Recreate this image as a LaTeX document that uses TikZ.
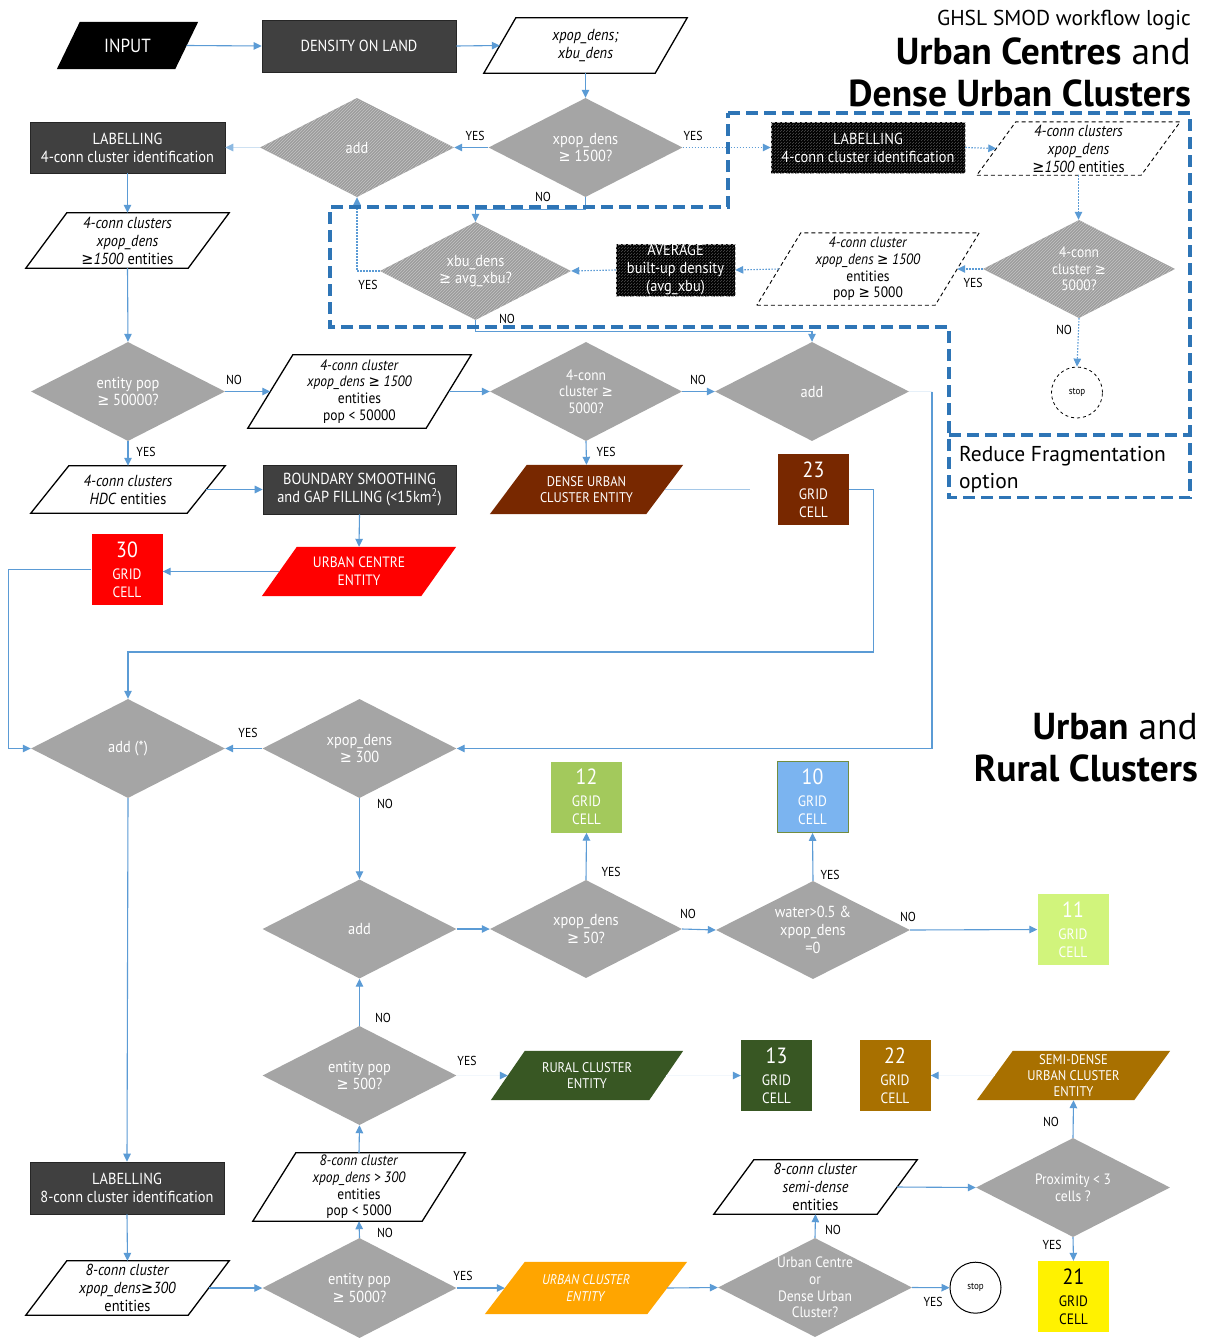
\documentclass[tikz,border=0pt]{standalone}
\usepackage{fontspec}
\setmainfont{PT Sans}
\newfontfamily\nodef[FakeStretch=0.9]{PT Sans}
\newfontfamily\symf[FakeStretch=0.9]{DejaVu Sans}
\newcommand\gsym{{\symf ≥}}
\usetikzlibrary{shapes.geometric,arrows.meta,patterns,backgrounds,calc}
\definecolor{arrowc}{HTML}{5B9BD5}
\definecolor{dashblue}{HTML}{2E75B6}
\definecolor{darkbox}{HTML}{404040}
\definecolor{darkedge}{HTML}{262626}
\definecolor{diagray}{HTML}{A5A5A5}
\definecolor{hatchbase}{HTML}{9C9C9C}
\definecolor{hatchline}{HTML}{C4C4C4}
\definecolor{hatchkl}{HTML}{505050}
\definecolor{brownc}{HTML}{782800}
\definecolor{green12}{HTML}{A3C95C}
\definecolor{blue10}{HTML}{7BB4F0}
\definecolor{green11}{HTML}{D1F47C}
\definecolor{dgreen}{HTML}{385723}
\definecolor{goldc}{HTML}{A87000}
\definecolor{orangec}{HTML}{FFA500}
\newcommand\myparal[3]{\path[#3] ($(#1.south west)+(-#2/2,0)$) -- ($(#1.south east)+(-#2/2,0)$) -- ($(#1.north east)+(#2/2,0)$) -- ($(#1.north west)+(#2/2,0)$) -- cycle;}
\begin{document}
\begin{tikzpicture}[x=1pt,y=-1pt,
  con/.style={draw=arrowc, line width=1.1pt, -{Triangle[length=8pt,width=7.5pt]}},
  dcon/.style={con, dash pattern=on 1.5pt off 1.5pt},
  fcon/.style={line width=1.1pt, draw=arrowc!30, -{Triangle[length=8pt,width=7.5pt,color=arrowc!70]}},
  gcon/.style={line width=1.1pt, draw=arrowc!8, -{Triangle[length=8pt,width=7.5pt,color=arrowc]}},
  bx/.style 2 args={rectangle, inner sep=0pt, minimum width=#1pt, minimum height=#2pt, align=center},
  dark/.style={fill=darkbox, draw=darkedge, line width=0.6pt, text=white, font=\nodef\fontsize{16}{18}\selectfont},
  hatchk/.style={preaction={fill=black}, pattern=north east lines, pattern color=hatchkl, draw=gray!60, line width=0.5pt, densely dashed, text=white, font=\nodef\fontsize{16}{18}\selectfont},
  dia/.style 2 args={shape=diamond, inner sep=0pt, minimum width=#1pt, minimum height=#2pt},
  dgray/.style={fill=diagray},
  hatchg/.style={preaction={fill=hatchbase}, pattern=north east lines, pattern color=hatchline},
  dtext/.style={text=white, align=center, inner sep=0pt, font=\nodef\fontsize{16}{17.7}\selectfont},
  dtexts/.style={text=white, align=center, inner sep=0pt, font=\nodef\fontsize{15}{16.7}\selectfont},
  ptext/.style={font=\nodef\fontsize{16}{18}\selectfont},
  ptexts/.style={font=\nodef\fontsize{15}{16.7}\selectfont},
  etext/.style={text=white, font=\nodef\fontsize{14}{16.7}\selectfont},
  gcell/.style={rectangle, inner sep=0pt, minimum width=71pt, minimum height=71pt, align=center, text=white, font=\nodef\fontsize{15}{18}\selectfont},
  yn/.style={font=\nodef\fontsize{13}{14}\selectfont, inner sep=0pt},
  pbord/.style={draw=black, fill=white, line width=1.3pt},
  pdash/.style={draw=black, fill=white, line width=0.9pt, dash pattern=on 4pt off 3pt},
  region/.style={draw=dashblue, line width=3.5pt, dash pattern=on 12pt off 6pt},
  title/.style={anchor=base east, inner sep=0pt, font=\fontsize{37.5}{44}\selectfont}
]
\useasboundingbox (0,0) rectangle (1207,1338);

% ---------- titles
\node[anchor=base east, inner sep=0pt, font=\fontsize{21.5}{25}\selectfont] (t1) at (1191,26) {GHSL SMOD workflow logic};
\node[title] (t2) at (1191,65) {\textbf{Urban Centres} and};
\node[title] (t3) at (1191,106) {\textbf{Dense Urban Clusters}};
\node[title] (t4) at (1198,739) {\textbf{Urban} and};
\node[title] (t5) at (1198,781) {\textbf{Rural Clusters}};
\node[anchor=base west, inner sep=0pt, font=\fontsize{21.5}{27}\selectfont] (t6) at (959,461.5) {Reduce Fragmentation};
\node[anchor=base west, inner sep=0pt, font=\fontsize{21.5}{27}\selectfont] (t7) at (959,488) {option};

% ---------- top part
\node[bx={118}{47}, text=white, font=\nodef\fontsize{19}{20}\selectfont] (inp) at (127.5,45.5) {INPUT};
\node[bx={194}{52}, dark] (dens) at (359,46) {DENSITY ON LAND};
\node[bx={171}{55}, ptext] (p1) at (585.5,45.5) {\textit{xpop\_dens;}\\\textit{xbu\_dens}};
\node[dia={194}{99}, hatchg, label={[dtext]center:{add}}] (d1) at (357,147.5) {};
\node[dia={194}{99}, dgray, label={[dtext]center:{xpop\_dens\\\gsym\ 1500?}}] (d2) at (585.5,147.5) {};
\node[bx={195}{51}, dark] (l1) at (127.5,147.5) {LABELLING\\4-conn cluster identification};
\node[bx={162}{55}, ptext] (p2) at (127.5,240.5) {\textit{4-conn clusters}\\\textit{xpop\_dens}\\\textit{\gsym1500} entities};
\node[bx={194}{51}, hatchk] (l2) at (868,147.5) {LABELLING\\4-conn cluster identification};
\node[bx={164}{53}, ptext] (p3) at (1078.5,148.5) {\textit{4-conn clusters}\\\textit{xpop\_dens}\\\textit{\gsym1500} entities};
\node[dia={192}{98}, hatchg, label={[dtexts]center:{4-conn\\cluster \gsym\\5000?}}] (d4) at (1079,269) {};
\node[bx={178}{72}, ptexts] (p4) at (868,269) {\textit{4-conn cluster}\\\textit{xpop\_dens \gsym\ 1500}\\entities\\pop \gsym\ 5000};
\node[bx={119}{52}, hatchk] (avg) at (675.5,270) {AVERAGE\\built-up density\\(avg\_xbu)};
\node[dia={191}{98}, hatchg, label={[dtext]center:{xbu\_dens\\\gsym\ avg\_xbu?}}] (d3) at (475.5,271) {};
\node[circle, draw, dashed, line width=0.8pt, minimum size=51pt, inner sep=0pt, font=\nodef\fontsize{10}{12}\selectfont] (s1) at (1077,392.5) {stop};

% ---------- middle part
\node[dia={194}{99}, dgray, label={[dtext]center:{entity pop\\\gsym\ 50000?}}] (d5) at (128,391.5) {};
\node[bx={178}{73}, ptexts] (p5) at (359.5,391.5) {\textit{4-conn cluster}\\\textit{xpop\_dens \gsym\ 1500}\\entities\\pop < 50000};
\node[dia={192}{99}, dgray, label={[dtexts]center:{4-conn\\cluster \gsym\\5000?}}] (d6) at (586,391.5) {};
\node[dia={194}{99}, dgray, label={[dtext]center:{add}}] (d7) at (812,391.5) {};
\node[bx={156}{47}, ptext] (p6) at (128,489.5) {\textit{4-conn clusters}\\\textit{HDC} entities};
\node[bx={193}{49}, dark] (bnd) at (359.5,489.5) {BOUNDARY SMOOTHING\\and GAP FILLING (<15km\textsuperscript{2})};
\node[bx={156}{49}, etext] (p7) at (586.5,489.5) {DENSE URBAN\\CLUSTER ENTITY};
\node[gcell, fill=brownc] (g23) at (813.5,489.5) {{\fontsize{22}{22}\selectfont 23}\\[4pt]GRID\\CELL};
\node[bx={159}{49}, text=white, font=\nodef\fontsize{15}{18}\selectfont] (p8) at (359,571.5) {URBAN CENTRE\\ENTITY};
\node[gcell, fill=red] (g30) at (127,569.5) {{\fontsize{22}{22}\selectfont 30}\\[4pt]GRID\\CELL};

% ---------- lower part
\node[dia={194}{99}, dgray, label={[dtext]center:{add (*)}}] (d8) at (128,748.5) {};
\node[dia={194}{99}, dgray, label={[dtext]center:{xpop\_dens\\\gsym\ 300}}] (d9) at (359.5,748.5) {};
\node[dia={194}{99}, dgray, label={[dtext]center:{add}}] (d10) at (359.5,929) {};
\node[dia={192}{98}, dgray, label={[dtext]center:{xpop\_dens\\\gsym\ 50?}}] (d11) at (586,929) {};
\node[dia={194}{98}, dgray, label={[dtext]center:{water>0.5 \&\\xpop\_dens\\=0}}] (d12) at (813,930) {};
\node[gcell, fill=green12] (g12) at (586.5,797) {{\fontsize{22}{22}\selectfont 12}\\[4pt]GRID\\CELL};
\node[gcell, fill=blue10, draw=green12!70!black, line width=0.8pt] (g10) at (812.5,797) {{\fontsize{22}{22}\selectfont 10}\\[4pt]GRID\\CELL};
\node[gcell, fill=green11] (g11) at (1073,929.5) {{\fontsize{22}{22}\selectfont 11}\\[4pt]GRID\\CELL};
\node[dia={194}{99}, dgray, label={[dtext]center:{entity pop\\\gsym\ 500?}}] (d13) at (359.5,1075.5) {};
\node[bx={158}{49}, etext] (p10) at (587,1075.5) {RURAL CLUSTER\\ENTITY};
\node[gcell, fill=dgreen] (g13) at (776.5,1075.5) {{\fontsize{22}{22}\selectfont 13}\\[4pt]GRID\\CELL};
\node[gcell, fill=goldc] (g22) at (895,1075.5) {{\fontsize{22}{22}\selectfont 22}\\[4pt]GRID\\CELL};
\node[bx={157}{49}, text=white, font=\nodef\fontsize{14}{16.3}\selectfont] (p11) at (1073.5,1075.5) {SEMI-DENSE\\URBAN CLUSTER\\ENTITY};
\node[dia={194}{99}, dgray, label={[dtexts]center:{Proximity < 3\\cells ?}}] (d16) at (1073,1187.5) {};
\node[bx={163}{54}, ptext] (p12) at (815.5,1187) {\textit{8-conn cluster}\\\textit{semi-dense}\\entities};
\node[bx={169}{68}, ptexts] (p13) at (359,1187) {\textit{8-conn cluster}\\\textit{xpop\_dens > 300}\\entities\\pop < 5000};
\node[bx={194}{52}, dark] (l3) at (127,1188) {LABELLING\\8-conn cluster identification};
\node[bx={162}{54}, ptext] (p14) at (127.5,1288) {\textit{8-conn cluster}\\\textit{xpop\_dens\gsym300}\\entities};
\node[dia={194}{100}, dgray, label={[dtext]center:{entity pop\\\gsym\ 5000?}}] (d14) at (359.5,1288) {};
\node[bx={162}{52}, etext] (p9) at (586,1288) {\textit{URBAN CLUSTER}\\\textit{ENTITY}};
\node[dia={194}{99}, dgray, label={[dtexts]center:{Urban Centre\\or\\Dense Urban\\Cluster?}}] (d15) at (815,1287.5) {};
\node[circle, draw, line width=1pt, minimum size=51pt, inner sep=0pt, font=\nodef\fontsize{10}{12}\selectfont] (s2) at (975.5,1287.7) {stop};
\node[gcell, fill=yellow, text=black] (g21) at (1073.5,1296.5) {{\fontsize{22}{22}\selectfont 21}\\[4pt]GRID\\CELL};

% ---------- YES / NO labels
\node[yn] (y1) at (475,136) {YES};
\node[yn] (y2) at (693,136) {YES};
\node[yn] (y3) at (543,197) {NO};
\node[yn] (y4) at (368,285) {YES};
\node[yn] (y5) at (507,319) {NO};
\node[yn] (y6) at (973,283) {YES};
\node[yn] (y7) at (1064,330) {NO};
\node[yn] (y8) at (234,380) {NO};
\node[yn] (y9) at (698,380) {NO};
\node[yn] (y10) at (146,452) {YES};
\node[yn] (y11) at (606,452) {YES};
\node[yn] (y12) at (248,733) {YES};
\node[yn] (y13) at (385,804) {NO};
\node[yn] (y14) at (611,872) {YES};
\node[yn] (y15) at (830,875) {YES};
\node[yn] (y16) at (688,914) {NO};
\node[yn] (y17) at (908,917) {NO};
\node[yn] (y18) at (383,1018) {NO};
\node[yn] (y19) at (467,1061) {YES};
\node[yn] (y20) at (1051,1122) {NO};
\node[yn] (y21) at (1052,1245) {YES};
\node[yn] (y22) at (385,1233) {NO};
\node[yn] (y23) at (463,1276) {YES};
\node[yn] (y24) at (833,1230) {NO};
\node[yn] (y25) at (933,1302) {YES};

% ---------- connectors
\draw[con] (inp.east) -- (dens.west);
\draw[con] (dens.east) -- (p1.west);
\draw[con] (p1.south) -- (d2.north);
\draw[con] (d2.west) -- (d1.east);
\draw[fcon] (d1.west) -- (l1.east);
\draw[con] (l1.south) -- (p2.north);
\draw[con] (p2.south) -- (d5.north);
\draw[dcon] (d2.east) -- (l2.west);
\draw[dcon] (l2.east) -- (p3.west);
\draw[dcon] (p3.south) -- (p3.south |- d4.north);
\draw[dcon] (d4.west) -- (p4.east);
\draw[dcon] (p4.west) -- (avg.east);
\draw[dcon] (avg.west) -- (d3.east);
\draw[dcon] (d3.west) -| (d1.south);
\draw[con] (d2.south) -- ++(0,12) -| (d3.north);
\draw[con] (d3.south) -- ++(0,11) -| (d7.north);
\draw[dcon] (d4.south) -- (s1.north);
\draw[con] (d5.east) -- (p5.west);
\draw[con] (p5.east) -- (d6.west);
\draw[con] (d6.east) -- (d7.west);
\draw[con] (d6.south) -- (p7.north);
\draw[con] (d5.south) -- (p6.north);
\draw[con] (p6.east) -- (bnd.west);
\draw[con] (bnd.south) -- (p8.north);
\draw[con] (p8.west) -- (g30.east |- p8.west);
\draw[con] (g30.west) -- ++(-83,0) |- (d8.west);
\coordinate (c23) at (750,489.5);
\draw[line width=1.1pt, draw=arrowc!55] (p7.east) -- (c23);
\draw[con] (g23.east) -- ++(24,0) |- (128,652) -- (d8.north);
\coordinate (j1) at (932,391.5);
\draw[line width=1.1pt, draw=arrowc!15] (d7.east) -- (j1);
\draw[con] (j1) |- (d9.east);
\draw[con] (d9.west) -- (d8.east);
\draw[con] (d9.south) -- (d10.north);
\draw[con] (d10.east) -- (d11.west);
\draw[con] (d11.north) -- (g12.south);
\draw[con] (d11.east) -- (d12.west);
\draw[con] (d12.north) -- (g10.south);
\draw[con] (d12.east) -- (g11.west);
\draw[con] (d8.south) -- (l3.north);
\draw[con] (d13.north) -- (d10.south);
\draw[gcon] (d13.east) -- (p10.west);
\draw[gcon] (p10.east) -- (g13.west);
\draw[gcon] (p11.west) -- (g22.east);
\draw[con] (d16.north) -- (p11.south);
\draw[con] (p12.east) -- (d16.west);
\draw[con] (d16.south) -- (g21.north);
\draw[con] (l3.south) -- (p14.north);
\draw[con] (p14.east) -- (d14.west);
\draw[con] (d14.north) -- (p13.south);
\draw[con] (p13.north) -- (d13.south);
\draw[con] (d14.east) -- (p9.west);
\draw[con] (p9.east) -- (d15.west);
\draw[con] (d15.east) -- (s2.west);
\draw[con] (d15.north) -- (p12.south);

% ---------- reduce fragmentation region
\draw[region] (728,113) -- (1190,113) -- (1190,497.5) -- (949,497.5) -- (949,327) -- (330,327) -- (330,207) -- (728,207) -- cycle;
\draw[region] (949,435) -- (1190,435);

% ---------- parallelogram outlines (behind)
\begin{scope}[on background layer]
\fill[white] (0,0) rectangle (1207,1338);
\myparal{inp}{23}{fill=black}
\myparal{p1}{32}{pbord}
\myparal{p2}{41}{pbord}
\myparal{p3}{39}{pdash}
\myparal{p4}{44}{pdash}
\myparal{p5}{45}{pbord}
\myparal{p6}{38}{pbord}
\myparal{p7}{37}{fill=brownc}
\myparal{p8}{35}{fill=red}
\myparal{p9}{40}{fill=orangec}
\myparal{p10}{34}{fill=dgreen}
\myparal{p11}{36}{fill=goldc}
\myparal{p12}{40}{pbord}
\myparal{p13}{43}{pbord}
\myparal{p14}{41}{pbord}
\end{scope}
\end{tikzpicture}
\end{document}
